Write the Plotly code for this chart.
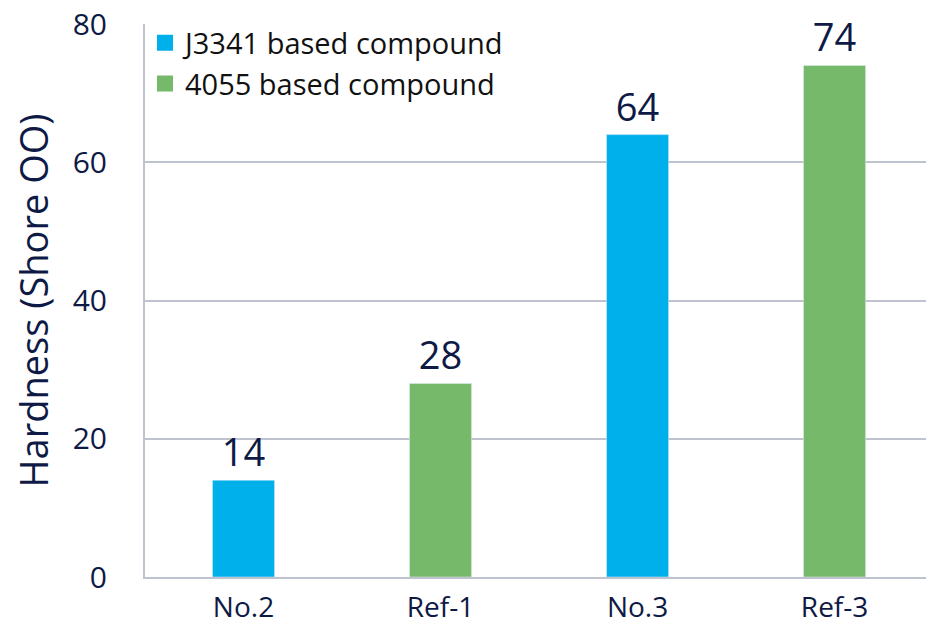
import plotly.graph_objects as go

categories = ['No.2', 'Ref-1', 'No.3', 'Ref-3']
j3341_names = ['No.2', 'No.3']
j3341_values = [14, 64]
c4055_names = ['Ref-1', 'Ref-3']
c4055_values = [28, 74]

navy = '#0e1a45'
grid = '#bfc3cf'
blue = '#00b0ea'
green = '#77b96b'
font = 'Open Sans'

fig = go.Figure()
fig.add_trace(go.Bar(
    x=j3341_names, y=j3341_values, name='J3341 based compound',
    marker_color=blue, width=0.315, showlegend=False,
    text=j3341_values, textposition='outside', cliponaxis=False,
    textfont=dict(size=38, color=navy, family=font)
))
fig.add_trace(go.Bar(
    x=c4055_names, y=c4055_values, name='4055 based compound',
    marker_color=green, width=0.315, showlegend=False,
    text=c4055_values, textposition='outside', cliponaxis=False,
    textfont=dict(size=38, color=navy, family=font)
))
# legend entries with larger square swatches
for name, col in [('J3341 based compound', blue), ('4055 based compound', green)]:
    fig.add_trace(go.Scatter(
        x=[None], y=[None], mode='markers', name=name,
        marker=dict(symbol='square', size=20, color=col)
    ))

fig.update_layout(
    width=927, height=628,
    margin=dict(l=145, r=1, t=24, b=51),
    plot_bgcolor='white', paper_bgcolor='white',
    barmode='overlay',
    font=dict(family=font, color=navy),
    legend=dict(
        x=0.0, y=1.012, xanchor='left', yanchor='top',
        font=dict(size=29, color='#111111', family=font),
        bgcolor='rgba(0,0,0,0)', tracegroupgap=0,
        itemwidth=30
    ),
    xaxis=dict(
        categoryorder='array', categoryarray=categories,
        range=[-0.5, 3.464], automargin=False,
        showline=True, linecolor=grid, linewidth=2,
        ticks='', tickfont=dict(size=28, color=navy),
        ticklabelstandoff=4
    ),
    yaxis=dict(
        range=[0, 80], tickvals=[0, 20, 40, 60, 80], automargin=False,
        showgrid=True, gridcolor=grid, gridwidth=2,
        showline=True, linecolor=grid, linewidth=2,
        zeroline=False,
        ticks='', tickfont=dict(size=30, color=navy),
        ticklabelstandoff=30,
        title=dict(text='Hardness (Shore OO)', font=dict(size=38, color=navy), standoff=12)
    )
)

fig.write_html('out.html', config={'displayModeBar': False},
               post_script="document.body.style.margin='0';")
